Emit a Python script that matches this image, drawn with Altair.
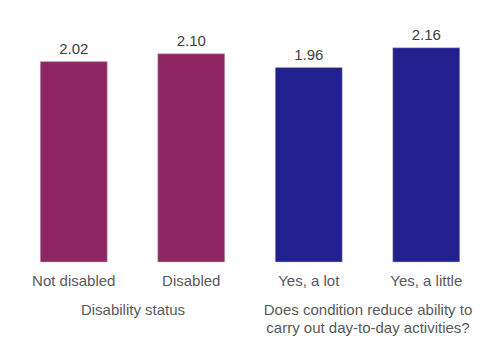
import altair as alt
import pandas as pd

groups = ["Disability status", "Does condition reduce ability to carry out day-to-day activities?"]
group_titles = [["Disability status"], ["Does condition reduce ability to", "carry out day-to-day activities?"]]
categories = [["Not disabled", "Disabled"], ["Yes, a lot", "Yes, a little"]]
values = [[2.02, 2.10], [1.96, 2.16]]
colors = ["#8f2563", "#22208f"]

FONT = "Liberation Sans"
panels = []
for gi in range(2):
    df = pd.DataFrame({"category": categories[gi], "value": values[gi]})
    x = alt.X("category:N", sort=categories[gi],
              scale=alt.Scale(paddingInner=0.43, paddingOuter=0.215),
              axis=alt.Axis(title=group_titles[gi], labelAngle=0, domain=False, ticks=False,
                            labelPadding=11, labelFontSize=15, labelColor="#595959",
                            labelFont=FONT, titleFont=FONT, titleFontSize=15,
                            titleFontWeight="normal", titleColor="#595959", titlePadding=14,
                            titleLineHeight=18.5))
    y = alt.Y("value:Q", scale=alt.Scale(domain=[0, 2.5]), axis=None)
    base = alt.Chart(df).encode(x=x, y=y)
    bars = base.mark_bar(color=colors[gi], stroke="#bbbbbb", strokeWidth=0.5)
    text = base.mark_text(dy=-8, baseline="alphabetic", fontSize=15, font=FONT, color="#404040").encode(
        text=alt.Text("value:Q", format=".2f"))
    panels.append((bars + text).properties(width=235, height=248))

chart = alt.hconcat(*panels, spacing=0).properties(
    padding={"left": 15, "top": 14, "right": 0, "bottom": 0}
).configure_view(stroke=None).configure_axis(grid=False)

chart.save("out.html", embed_options={"renderer": "svg", "actions": False})
